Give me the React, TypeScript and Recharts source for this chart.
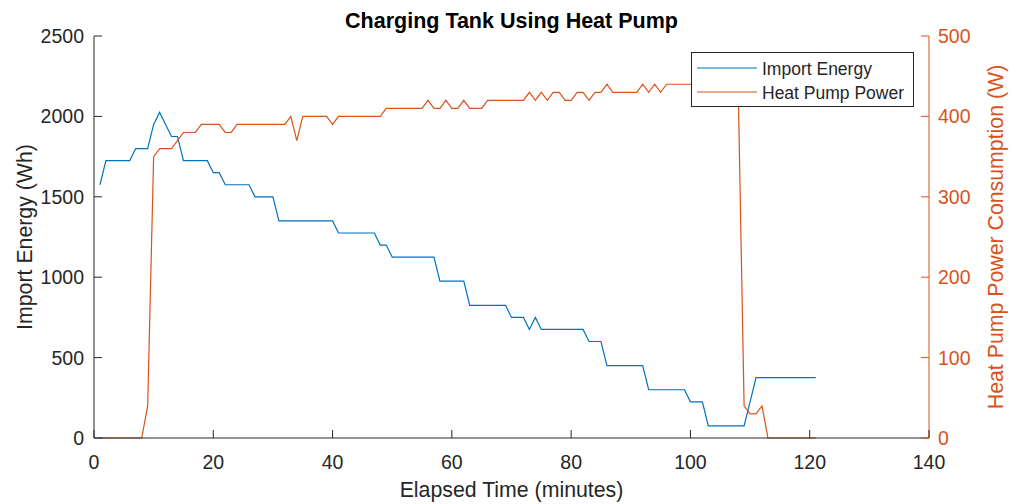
import React from 'react';
import { LineChart, Line, XAxis, YAxis, Legend } from 'recharts';

const minutes = [
  1, 2, 3, 4, 5, 6, 7, 8, 9, 10,
  11, 12, 13, 14, 15, 16, 17, 18, 19, 20,
  21, 22, 23, 24, 25, 26, 27, 28, 29, 30,
  31, 32, 33, 34, 35, 36, 37, 38, 39, 40,
  41, 42, 43, 44, 45, 46, 47, 48, 49, 50,
  51, 52, 53, 54, 55, 56, 57, 58, 59, 60,
  61, 62, 63, 64, 65, 66, 67, 68, 69, 70,
  71, 72, 73, 74, 75, 76, 77, 78, 79, 80,
  81, 82, 83, 84, 85, 86, 87, 88, 89, 90,
  91, 92, 93, 94, 95, 96, 97, 98, 99, 100,
  101, 102, 103, 104, 105, 106, 107, 108, 109, 110,
  111, 112, 113, 114, 115, 116, 117, 118, 119, 120,
  121,
];

const importEnergy = [
  1575, 1725, 1725, 1725, 1725, 1725, 1800, 1800, 1800, 1950,
  2025, 1950, 1875, 1875, 1725, 1725, 1725, 1725, 1725, 1650,
  1650, 1575, 1575, 1575, 1575, 1575, 1500, 1500, 1500, 1500,
  1350, 1350, 1350, 1350, 1350, 1350, 1350, 1350, 1350, 1350,
  1275, 1275, 1275, 1275, 1275, 1275, 1275, 1200, 1200, 1125,
  1125, 1125, 1125, 1125, 1125, 1125, 1125, 975, 975, 975,
  975, 975, 825, 825, 825, 825, 825, 825, 825, 750,
  750, 750, 675, 750, 675, 675, 675, 675, 675, 675,
  675, 675, 600, 600, 600, 450, 450, 450, 450, 450,
  450, 450, 300, 300, 300, 300, 300, 300, 300, 225,
  225, 225, 75, 75, 75, 75, 75, 75, 75, 225,
  375, 375, 375, 375, 375, 375, 375, 375, 375, 375,
  375,
];

const heatPumpPower = [
  0, 0, 0, 0, 0, 0, 0, 0, 40, 350,
  360, 360, 360, 370, 380, 380, 380, 390, 390, 390,
  390, 380, 380, 390, 390, 390, 390, 390, 390, 390,
  390, 390, 400, 370, 400, 400, 400, 400, 400, 390,
  400, 400, 400, 400, 400, 400, 400, 400, 410, 410,
  410, 410, 410, 410, 410, 420, 410, 410, 420, 410,
  410, 420, 410, 410, 410, 420, 420, 420, 420, 420,
  420, 420, 430, 420, 430, 420, 430, 430, 420, 420,
  430, 430, 420, 430, 430, 440, 430, 430, 430, 430,
  430, 440, 430, 440, 430, 440, 440, 440, 440, 440,
  440, 440, 440, 440, 440, 440, 440, 440, 40, 30,
  30, 40, 0, 0, 0, 0, 0, 0, 0, 0,
  0,
];

const seriesNames = ['Import Energy', 'Heat Pump Power'];
const xTicks = [0, 20, 40, 60, 80, 100, 120, 140];
const leftTicks = [0, 500, 1000, 1500, 2000, 2500];
const rightTicks = [0, 100, 200, 300, 400, 500];

const BLUE = '#0072BD';
const ORANGE = '#D95319';
const AXIS = '#262626';
const FONT = '"Liberation Sans", Arial, Helvetica, sans-serif';
const TICK_FS = 19.5;
const LABEL_FS = 21.3;

const data = minutes.map((m, i) => ({
  minute: m,
  energy: importEnergy[i],
  power: heatPumpPower[i],
}));

const BottomTick = (props: any) => {
  const { x, y, payload } = props;
  return (
    <g>
      <line x1={x} y1={y} x2={x} y2={y - 8} stroke={AXIS} strokeWidth={1} />
      <text x={x} y={y + 31} textAnchor="middle" fontSize={TICK_FS} fill={AXIS} fontFamily={FONT}>
        {payload.value}
      </text>
    </g>
  );
};

const TopTick = (props: any) => {
  const { x, y } = props;
  return <line x1={x} y1={y} x2={x} y2={y + 8} stroke={AXIS} strokeWidth={1} />;
};

const LeftTick = (props: any) => {
  const { x, y, payload } = props;
  return (
    <g>
      <line x1={x} y1={y} x2={x + 8} y2={y} stroke={AXIS} strokeWidth={1} />
      <text x={x - 10} y={y + 7} textAnchor="end" fontSize={TICK_FS} fill={AXIS} fontFamily={FONT}>
        {payload.value}
      </text>
    </g>
  );
};

const RightTick = (props: any) => {
  const { x, y, payload } = props;
  return (
    <g>
      <line x1={x} y1={y} x2={x - 8} y2={y} stroke={ORANGE} strokeWidth={1} />
      <text x={x + 9} y={y + 7} textAnchor="start" fontSize={TICK_FS} fill={ORANGE} fontFamily={FONT}>
        {payload.value}
      </text>
    </g>
  );
};

const LegendBox = (props: any) => {
  const payload = [...(props.payload || [])].sort(
    (a: any, b: any) => seriesNames.indexOf(a.value) - seriesNames.indexOf(b.value)
  );
  return (
    <svg width={224} height={55} style={{ display: 'block' }}>
      <rect x={0.5} y={0.5} width={222} height={54} fill="#ffffff" stroke={AXIS} strokeWidth={1} />
      {payload.map((entry: any, i: number) => (
        <g key={entry.value}>
          <line x1={6} y1={16 + i * 24} x2={66} y2={16 + i * 24} stroke={entry.color} strokeWidth={1.2} />
          <text x={71} y={23 + i * 24} fontSize={17.5} fill={AXIS} fontFamily={FONT}>
            {entry.value}
          </text>
        </g>
      ))}
    </svg>
  );
};

export default function App() {
  return (
    <div style={{ position: 'absolute', left: 0, top: 0, width: 1011, height: 504, background: '#ffffff' }}>
      <LineChart
        width={1011}
        height={504}
        data={data}
        margin={{ top: 36, right: 0, bottom: 6, left: 0 }}
      >
        <XAxis
          xAxisId="bottom"
          dataKey="minute"
          type="number"
          domain={[0, 140]}
          ticks={xTicks}
          interval={0}
          allowDataOverflow
          height={60}
          tickSize={0}
          tickMargin={0}
          tickLine={false}
          axisLine={{ stroke: AXIS, strokeWidth: 1 }}
          tick={(p: any) => <BottomTick {...p} />}
        />
        <XAxis
          xAxisId="top"
          orientation="top"
          dataKey="minute"
          type="number"
          domain={[0, 140]}
          ticks={xTicks}
          interval={0}
          allowDataOverflow
          height={0}
          tickSize={0}
          tickMargin={0}
          tickLine={false}
          axisLine={{ stroke: AXIS, strokeWidth: 1 }}
          tick={(p: any) => <TopTick {...p} />}
        />
        <YAxis
          yAxisId="left"
          orientation="left"
          domain={[0, 2500]}
          ticks={leftTicks}
          interval={0}
          width={94}
          tickSize={0}
          tickMargin={0}
          tickLine={false}
          axisLine={{ stroke: AXIS, strokeWidth: 1 }}
          tick={(p: any) => <LeftTick {...p} />}
        />
        <YAxis
          yAxisId="right"
          orientation="right"
          domain={[0, 500]}
          ticks={rightTicks}
          interval={0}
          width={82}
          tickSize={0}
          tickMargin={0}
          tickLine={false}
          axisLine={{ stroke: ORANGE, strokeWidth: 1 }}
          tick={(p: any) => <RightTick {...p} />}
        />
        <Line
          xAxisId="bottom"
          yAxisId="left"
          type="linear"
          dataKey="energy"
          name={seriesNames[0]}
          stroke={BLUE}
          strokeWidth={1.2}
          dot={false}
          activeDot={false}
          isAnimationActive={false}
        />
        <Line
          xAxisId="bottom"
          yAxisId="right"
          type="linear"
          dataKey="power"
          name={seriesNames[1]}
          stroke={ORANGE}
          strokeWidth={1.2}
          dot={false}
          activeDot={false}
          isAnimationActive={false}
        />
        <Legend
          layout="vertical"
          align="center"
          verticalAlign="middle"
          wrapperStyle={{ position: 'absolute', left: 691, top: 52, width: 224, height: 55 }}
          content={(p: any) => <LegendBox {...p} />}
        />
      </LineChart>
      <svg
        width={1011}
        height={504}
        style={{ position: 'absolute', left: 0, top: 0, pointerEvents: 'none' }}
      >
        <text x={511.5} y={28} textAnchor="middle" fontSize={21.5} fontWeight="bold" fill="#000000" fontFamily={FONT}>
          Charging Tank Using Heat Pump
        </text>
        <text x={511.5} y={497} textAnchor="middle" fontSize={LABEL_FS} fill={AXIS} fontFamily={FONT}>
          Elapsed Time (minutes)
        </text>
        <text
          x={0}
          y={0}
          transform="translate(32,237) rotate(-90)"
          textAnchor="middle"
          fontSize={LABEL_FS}
          fill={AXIS}
          fontFamily={FONT}
        >
          Import Energy (Wh)
        </text>
        <text
          x={0}
          y={0}
          transform="translate(1003,237) rotate(-90)"
          textAnchor="middle"
          fontSize={LABEL_FS}
          fill={ORANGE}
          fontFamily={FONT}
        >
          Heat Pump Power Consumption (W)
        </text>
      </svg>
    </div>
  );
}
